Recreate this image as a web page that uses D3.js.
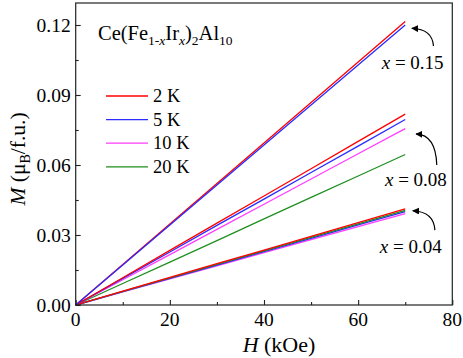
<!DOCTYPE html>
<html lang="en">
<head>
<meta charset="UTF-8">
<title>M vs H</title>
<style>
    body { margin: 0; background: #fff; }
    svg text { font-family: "Liberation Serif", "Times New Roman", serif; fill: #000; }
</style>
</head>
<body>
<script src="https://d3js.org/d3.v7.min.js"></script>
<script type="text/javascript">
    // field values (kOe)
    var fieldH = [0, 10, 20, 30, 40, 50, 60, 70];

    // magnetization (muB/f.u.)
    var x015_2K  = [0, 0.0174, 0.0347, 0.0521, 0.0694, 0.0868, 0.1041, 0.1215];
    var x015_5K  = [0, 0.0171, 0.0343, 0.0514, 0.0686, 0.0857, 0.1029, 0.1200];
    var x008_2K  = [0, 0.0117, 0.0234, 0.0351, 0.0467, 0.0584, 0.0701, 0.0818];
    var x008_5K  = [0, 0.0114, 0.0227, 0.0341, 0.0454, 0.0568, 0.0681, 0.0795];
    var x008_10K = [0, 0.0108, 0.0216, 0.0324, 0.0432, 0.0540, 0.0648, 0.0756];
    var x008_20K = [0, 0.0092, 0.0184, 0.0276, 0.0369, 0.0461, 0.0553, 0.0645];
    var x004_2K  = [0, 0.0059, 0.0118, 0.0177, 0.0235, 0.0294, 0.0353, 0.0412];
    var x004_5K  = [0, 0.0057, 0.0114, 0.0171, 0.0229, 0.0286, 0.0343, 0.0400];
    var x004_10K = [0, 0.0056, 0.0112, 0.0168, 0.0224, 0.0280, 0.0336, 0.0392];
    var x004_20K = [0, 0.0058, 0.0116, 0.0174, 0.0232, 0.0290, 0.0348, 0.0406];

    var tempLabels = ["2 K", "5 K", "10 K", "20 K"];
    var tempColors = ["#ff0000", "#2b2bff", "#ff3cff", "#1f8f1f"];

    var xTicks = [0, 20, 40, 60, 80];
    var yTicks = [0, 0.03, 0.06, 0.09, 0.12];

    // series list: values + temperature index
    var series = [
        { values: x008_20K, t: 3 }, { values: x008_10K, t: 2 }, { values: x008_5K, t: 1 }, { values: x008_2K, t: 0 },
        { values: x004_10K, t: 2 }, { values: x004_5K, t: 1 }, { values: x004_20K, t: 3 }, { values: x004_2K, t: 0 },
        { values: x015_2K, t: 0 }, { values: x015_5K, t: 1 }
    ];

    // annotation labels: text position and arrow (start -> head), in data units
    var annoText = ["0.15", "0.08", "0.04"];
    var annoTextPos = [[65.0, 0.1012], [65.7, 0.0511], [64.6, 0.0222]];
    var annoArrowFrom = [[76.0, 0.1110], [76.7, 0.0600], [76.3, 0.0321]];
    var annoArrowTo = [[71.4, 0.1186], [72.3, 0.0733], [71.6, 0.0404]];

    var width = 463, height = 358;
    var margin = { left: 75.7, right: 10.7, top: 3, bottom: 53 };
    var serif = "'Liberation Serif', 'Times New Roman', serif";

    var svg = d3.select("body").append("svg")
        .attr("width", width)
        .attr("height", height);

    var x = d3.scaleLinear().domain([0, 80]).range([margin.left, width - margin.right]);
    var y = d3.scaleLinear().domain([0, 0.12]).range([height - margin.bottom, 25]);
    var yTop = y.invert(margin.top);
    y.domain([0, yTop]).range([height - margin.bottom, margin.top]);

    var defs = svg.append("defs");
    defs.append("marker")
        .attr("id", "head")
        .attr("viewBox", "0 -5 10 10")
        .attr("refX", 9).attr("refY", 0)
        .attr("markerWidth", 7).attr("markerHeight", 7)
        .attr("markerUnits", "userSpaceOnUse")
        .attr("orient", "auto")
        .append("path").attr("d", "M0,-5L10,0L0,5Z").attr("fill", "#000");

    // lines
    var line = d3.line()
        .x(function(d, i) { return x(fieldH[i]); })
        .y(function(d) { return y(d); });

    svg.selectAll("path.series")
        .data(series)
        .enter().append("path")
        .attr("class", "series")
        .attr("fill", "none")
        .attr("stroke", function(d) { return tempColors[d.t]; })
        .attr("stroke-width", 1.3)
        .attr("d", function(d) { return line(d.values); });

    // frame (left + bottom axes, plain top/right border)
    var plotW = x(80) - x(0), plotH = y(0) - y(yTop);
    svg.append("rect")
        .attr("x", x(0)).attr("y", y(yTop))
        .attr("width", plotW).attr("height", plotH)
        .attr("fill", "none").attr("stroke", "#222").attr("stroke-width", 1.2);

    // x axis
    var xAxis = svg.append("g").attr("transform", "translate(0," + y(0) + ")");
    xAxis.call(d3.axisBottom(x).tickValues(d3.range(0, 81, 10)).tickSize(-5).tickFormat(""));
    xAxis.selectAll(".tick line").attr("y2", function(d) { return d % 20 === 0 ? -5 : -3; })
        .attr("stroke", "#222").attr("stroke-width", 1.1);
    xAxis.select(".domain").remove();
    xAxis.selectAll("text.lab").data(xTicks).enter().append("text")
        .attr("class", "lab")
        .attr("x", function(d) { return x(d); })
        .attr("y", 21)
        .attr("text-anchor", "middle")
        .attr("font-size", 19.5)
        .text(function(d) { return d; });

    // y axis
    var yAxis = svg.append("g").attr("transform", "translate(" + x(0) + ",0)");
    yAxis.call(d3.axisLeft(y).tickValues(d3.range(0, 0.1201, 0.015)).tickSize(-5).tickFormat(""));
    yAxis.selectAll(".tick line").attr("x2", function(d, i) { return i % 2 === 0 ? 5 : 3; })
        .attr("stroke", "#222").attr("stroke-width", 1.1);
    yAxis.select(".domain").remove();
    yAxis.selectAll("text.lab").data(yTicks).enter().append("text")
        .attr("class", "lab")
        .attr("x", -5)
        .attr("y", function(d) { return y(d) + 6.7; })
        .attr("text-anchor", "end")
        .attr("font-size", 19.5)
        .text(function(d) { return d3.format(".2f")(d); });

    // axis titles
    var xt = svg.append("text")
        .attr("x", 279)
        .attr("y", 352)
        .attr("text-anchor", "middle")
        .attr("font-size", 22);
    xt.append("tspan").attr("font-style", "italic").text("H");
    xt.append("tspan").text(" (kOe)");

    var yt = svg.append("text")
        .attr("transform", "translate(24.5,159) rotate(-90)")
        .attr("text-anchor", "middle")
        .attr("font-size", 21.5);
    yt.append("tspan").attr("font-style", "italic").text("M");
    yt.append("tspan").text(" (μ");
    yt.append("tspan").attr("font-size", 14).attr("dy", 5).text("B");
    yt.append("tspan").attr("dy", -5).text("/f.u.)");

    // compound title
    var title = svg.append("text")
        .attr("x", 98).attr("y", 40)
        .attr("font-size", 20.5);
    title.append("tspan").text("Ce(Fe");
    title.append("tspan").attr("font-size", 13.5).attr("dy", 5).text("1-");
    title.append("tspan").attr("font-size", 13.5).attr("font-style", "italic").text("x");
    title.append("tspan").attr("dy", -5).text("Ir");
    title.append("tspan").attr("font-size", 13.5).attr("font-style", "italic").attr("dy", 5).text("x");
    title.append("tspan").attr("dy", -5).text(")");
    title.append("tspan").attr("font-size", 13.5).attr("dy", 5).text("2");
    title.append("tspan").attr("dy", -5).text("Al");
    title.append("tspan").attr("font-size", 13.5).attr("dy", 5).text("10");

    // legend
    var legend = svg.append("g").attr("transform", "translate(106,96)");
    var rows = legend.selectAll("g").data(tempLabels).enter().append("g")
        .attr("transform", function(d, i) { return "translate(0," + (i * 23.6) + ")"; });
    rows.append("line")
        .attr("x1", 0).attr("x2", 42).attr("y1", 0).attr("y2", 0)
        .attr("stroke", function(d, i) { return tempColors[i]; })
        .attr("stroke-width", 1.3);
    rows.append("text")
        .attr("x", 47).attr("y", 6)
        .attr("font-size", 18.5)
        .text(function(d) { return d; });

    // annotations
    annoText.forEach(function(t, i) {
        var tx = svg.append("text")
            .attr("x", x(annoTextPos[i][0]))
            .attr("y", y(annoTextPos[i][1]))
            .attr("font-size", 19);
        tx.append("tspan").attr("font-style", "italic").text("x");
        tx.append("tspan").text(" = " + t);

        var x0 = x(annoArrowFrom[i][0]), y0 = y(annoArrowFrom[i][1]);
        var x1 = x(annoArrowTo[i][0]), y1 = y(annoArrowTo[i][1]);
        var p = d3.path();
        p.moveTo(x0, y0);
        p.quadraticCurveTo(x0 - 1, y1 + 1, x1, y1);
        svg.append("path")
            .attr("d", p.toString())
            .attr("fill", "none")
            .attr("stroke", "#000")
            .attr("stroke-width", 1.2)
            .attr("marker-end", "url(#head)");
    });

    // force the serif face on every label (axis groups carry their own font attrs)
    svg.selectAll("text").style("font-family", serif);
</script>
</body>
</html>
